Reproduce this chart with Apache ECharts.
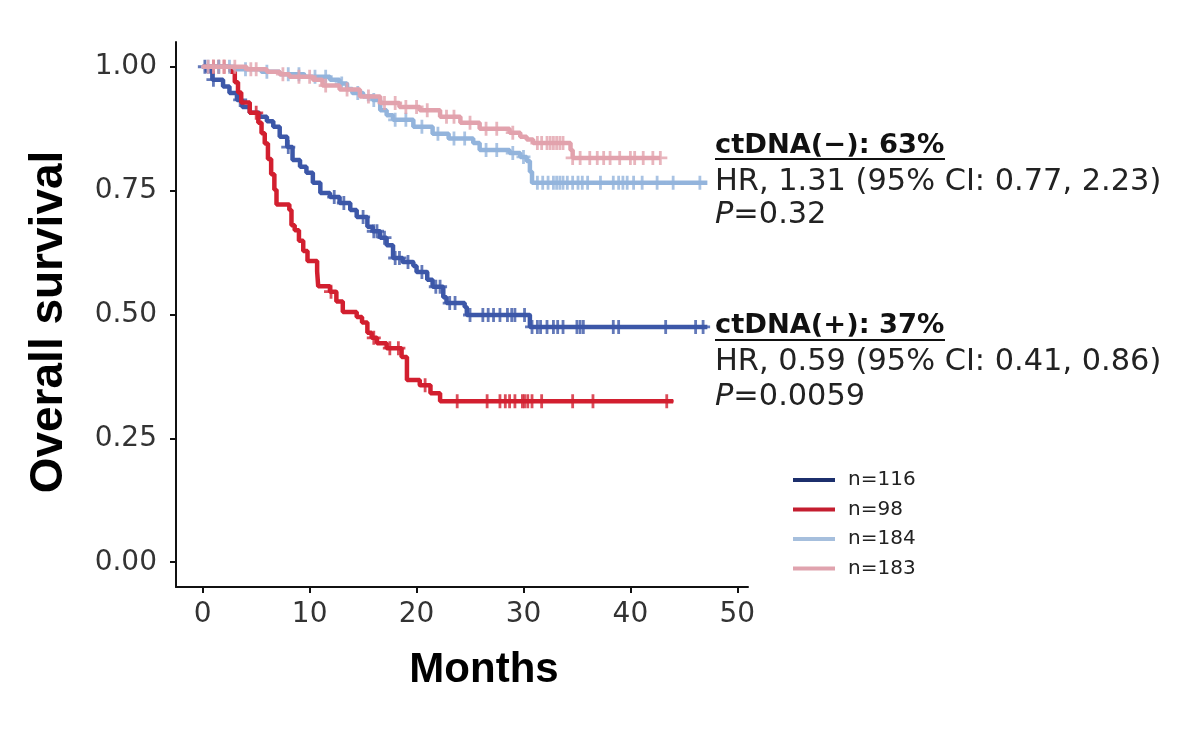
<!DOCTYPE html>
<html><head><meta charset="utf-8">
<script src="https://cdn.jsdelivr.net/npm/echarts@6/dist/echarts.min.js"></script>
<style>html,body{margin:0;padding:0;background:#fff}#c{width:1200px;height:730px}</style>
</head><body><div id="c"></div>
<script>
// ---- data (months, survival after each step) ----
const groupNames = ['n=116', 'n=98', 'n=184', 'n=183'];
const xTicks = [0, 10, 20, 30, 40, 50];
const yTicks = [0, 0.25, 0.5, 0.75, 1];

const blueT = [0, 0.4, 0.9, 1.9, 2.5, 3.2, 3.7, 4.4, 5.3, 6.0, 6.6, 7.2, 7.9, 8.4, 9.1, 9.7, 10.3, 11.0, 11.9, 12.8, 13.8, 14.4, 15.4, 15.9, 16.6, 17.2, 17.8, 18.7, 19.7, 20.0, 21.0, 21.5, 22.5, 22.8, 24.5, 24.7, 30.6, 47.2];
const blueS = [1.0, 0.991, 0.974, 0.960, 0.947, 0.933, 0.919, 0.907, 0.899, 0.890, 0.879, 0.859, 0.838, 0.812, 0.798, 0.786, 0.766, 0.745, 0.737, 0.725, 0.711, 0.697, 0.677, 0.668, 0.655, 0.640, 0.614, 0.606, 0.598, 0.586, 0.570, 0.556, 0.535, 0.523, 0.515, 0.499, 0.475, 0.475];
const blueCens = [0.2, 1.0, 3.5, 8.0, 12.3, 13.2, 15.0, 16.0, 16.3, 17.0, 18.0, 18.4, 19.2, 20.5, 21.8, 22.2, 23.1, 23.6, 25.0, 26.2, 26.7, 27.2, 27.8, 28.5, 28.9, 29.2, 30.1, 30.8, 31.3, 31.6, 32.2, 32.8, 33.2, 33.7, 35.0, 35.3, 35.6, 38.4, 38.9, 43.3, 46.1, 46.8];

const redT = [0, 2.6, 3.0, 3.3, 3.6, 4.4, 5.2, 5.5, 5.8, 6.1, 6.4, 6.7, 6.9, 8.1, 8.3, 8.6, 9.0, 9.4, 9.8, 10.7, 10.8, 11.9, 12.5, 13.1, 14.4, 14.9, 15.4, 15.8, 16.3, 17.2, 18.6, 19.1, 20.3, 21.3, 22.2, 44.0];
const redS = [1.0, 0.990, 0.969, 0.948, 0.928, 0.907, 0.887, 0.866, 0.845, 0.814, 0.783, 0.752, 0.722, 0.711, 0.680, 0.670, 0.649, 0.628, 0.608, 0.587, 0.557, 0.546, 0.526, 0.505, 0.495, 0.484, 0.463, 0.453, 0.442, 0.432, 0.414, 0.368, 0.357, 0.341, 0.325, 0.325];
const redCens = [1.0, 1.5, 2.0, 5.0, 12.0, 16.0, 17.5, 18.3, 20.8, 23.8, 26.6, 27.8, 28.3, 28.7, 29.2, 29.9, 30.1, 30.4, 30.8, 31.7, 34.6, 36.5, 43.4];

const lblueT = [0, 3.0, 5.5, 7.2, 9.5, 11.9, 12.8, 13.5, 14.0, 15.0, 15.9, 16.6, 17.2, 17.8, 19.7, 21.5, 23.0, 25.3, 25.9, 28.7, 29.7, 30.3, 30.6, 30.8, 47.2];
const lblueS = [1.0, 0.995, 0.990, 0.985, 0.980, 0.974, 0.966, 0.955, 0.947, 0.940, 0.933, 0.912, 0.902, 0.893, 0.879, 0.865, 0.855, 0.846, 0.832, 0.826, 0.818, 0.810, 0.788, 0.766, 0.766];
const lblueCens = [0.5, 1.5, 2.5, 4.0, 6.0, 8.0, 9.0, 10.5, 11.5, 13.0, 14.5, 16.0, 18.0, 19.0, 20.5, 22.0, 23.5, 24.5, 26.5, 27.5, 29.0, 30.0, 31.3, 31.8, 32.3, 32.8, 33.1, 33.4, 33.7, 34.1, 34.6, 35.1, 35.5, 36.0, 37.2, 38.4, 38.9, 39.3, 39.7, 40.3, 41.1, 42.5, 44.0, 46.5];

const pinkT = [0, 4.1, 6.0, 7.2, 8.1, 10.3, 11.2, 12.8, 14.7, 16.6, 18.4, 20.3, 22.2, 24.1, 25.9, 28.7, 29.7, 30.3, 30.9, 34.4, 34.6, 42.8];
const pinkS = [1.0, 0.995, 0.990, 0.985, 0.980, 0.974, 0.962, 0.954, 0.940, 0.927, 0.919, 0.912, 0.899, 0.887, 0.875, 0.867, 0.859, 0.853, 0.846, 0.832, 0.816, 0.816];
const pinkCens = [0.5, 1.0, 2.0, 3.0, 4.5, 5.0, 7.5, 9.0, 10.0, 11.5, 13.5, 15.5, 17.0, 18.0, 19.0, 20.0, 21.0, 22.8, 23.5, 25.0, 26.5, 27.5, 29.0, 31.3, 31.7, 32.2, 32.5, 32.8, 33.1, 33.4, 33.7, 34.6, 35.3, 36.2, 36.9, 37.5, 38.1, 39.0, 40.0, 40.4, 41.2, 42.1, 42.8];

// ---- helpers ----
function pairs(T, S) { return T.map((t, i) => [t, S[i]]); }
function survAt(T, S, t) { let v = S[0]; for (let i = 0; i < T.length; i++) { if (T[i] <= t) v = S[i]; } return v; }
function censPts(T, S, C) { return C.map(t => [t, survAt(T, S, t)]); }

const lineColors = ['#3c57a8', '#d21f2f', '#93b4dc', '#e2a2ad'];
const legendColors = ['#1c2f6c', '#c41d2f', '#a6bfdd', '#e0a3ae'];
const groups = [[blueT, blueS, blueCens], [redT, redS, redCens], [lblueT, lblueS, lblueCens], [pinkT, pinkS, pinkCens]];
const plus = 'path://M5.6,0h2.8v5.6h5.6v2.8h-5.6v5.6h-2.8v-5.6h-5.6v-2.8h5.6z';

const series = [];
groups.forEach((g, i) => {
  series.push({
    name: groupNames[i], type: 'line', step: 'end', showSymbol: false, silent: true,
    data: pairs(g[0], g[1]), lineStyle: { color: lineColors[i], width: 4.5 }, itemStyle: { color: lineColors[i] }, z: 2 + i
  });
  series.push({
    name: groupNames[i], type: 'scatter', symbol: plus, symbolSize: [14, 14], silent: true,
    data: censPts(g[0], g[1], g[2]), itemStyle: { color: lineColors[i] }, z: 2 + i
  });
});

const chart = echarts.init(document.getElementById('c'), null, { renderer: 'canvas' });
const tickFont = 'DejaVu Sans';
chart.setOption({
  animation: false,
  backgroundColor: '#fff',
  grid: { left: 176, right: 452, top: 42, bottom: 143, containLabel: false },
  xAxis: {
    type: 'value', min: -2.5, max: 51,
    axisLine: { show: true, onZero: false, lineStyle: { color: '#111', width: 2 } },
    axisTick: { show: true, length: 6, lineStyle: { color: '#111', width: 2 }, customValues: xTicks },
    axisLabel: { customValues: xTicks, margin: 14, fontFamily: tickFont, fontSize: 28, color: '#333' },
    splitLine: { show: false }
  },
  yAxis: {
    type: 'value', min: -0.05, max: 1.05,
    axisLine: { show: true, onZero: false, lineStyle: { color: '#111', width: 2 } },
    axisTick: { show: true, length: 6, lineStyle: { color: '#111', width: 2 }, customValues: yTicks },
    axisLabel: { customValues: yTicks, margin: 19, fontFamily: tickFont, fontSize: 28, color: '#333', formatter: v => v.toFixed(2) },
    splitLine: { show: false }
  },
  legend: {
    orient: 'vertical', left: 793, top: 470, padding: 0, itemGap: 9.5,
    itemWidth: 42, itemHeight: 4, icon: 'rect',
    textStyle: { fontFamily: tickFont, fontSize: 20, lineHeight: 20, color: '#222', padding: [0, 0, 0, 8] },
    data: groupNames.map((n, i) => ({ name: n, itemStyle: { color: legendColors[i] } }))
  },
  series: series,
  graphic: [
    { type: 'text', x: 49, y: 322, rotation: Math.PI / 2, style: { text: 'Overall survival', fontFamily: 'Liberation Sans', fontWeight: 'bold', fontSize: 46, fill: '#000', align: 'center', verticalAlign: 'middle' } },
    { type: 'text', x: 484, y: 670, style: { text: 'Months', fontFamily: 'Liberation Sans', fontWeight: 'bold', fontSize: 42, fill: '#000', align: 'center', verticalAlign: 'middle' } },
    { type: 'text', x: 715, y: 146, style: { text: 'ctDNA(\u2212): 63%', fontFamily: tickFont, fontWeight: 'bold', fontSize: 27.3, fill: '#111', align: 'left', verticalAlign: 'middle' } },
    { type: 'line', shape: { x1: 715, y1: 159, x2: 945, y2: 159 }, style: { stroke: '#111', lineWidth: 2 } },
    { type: 'text', x: 715, y: 182, style: { text: 'HR, 1.31 (95% CI: 0.77, 2.23)', fontFamily: tickFont, fontSize: 30.4, fill: '#222', align: 'left', verticalAlign: 'middle' } },
    { type: 'text', x: 715, y: 215, style: { text: '{i|P}=0.32', fontFamily: tickFont, fontSize: 30.4, fill: '#222', align: 'left', verticalAlign: 'middle', rich: { i: { fontStyle: 'italic', fontFamily: tickFont, fontSize: 30.4, fill: '#222' } } } },
    { type: 'text', x: 715, y: 326, style: { text: 'ctDNA(+): 37%', fontFamily: tickFont, fontWeight: 'bold', fontSize: 27.3, fill: '#111', align: 'left', verticalAlign: 'middle' } },
    { type: 'line', shape: { x1: 715, y1: 340, x2: 945, y2: 340 }, style: { stroke: '#111', lineWidth: 2 } },
    { type: 'text', x: 715, y: 362, style: { text: 'HR, 0.59 (95% CI: 0.41, 0.86)', fontFamily: tickFont, fontSize: 30.4, fill: '#222', align: 'left', verticalAlign: 'middle' } },
    { type: 'text', x: 715, y: 397, style: { text: '{i|P}=0.0059', fontFamily: tickFont, fontSize: 30.4, fill: '#222', align: 'left', verticalAlign: 'middle', rich: { i: { fontStyle: 'italic', fontFamily: tickFont, fontSize: 30.4, fill: '#222' } } } }
  ]
});
</script></body></html>
